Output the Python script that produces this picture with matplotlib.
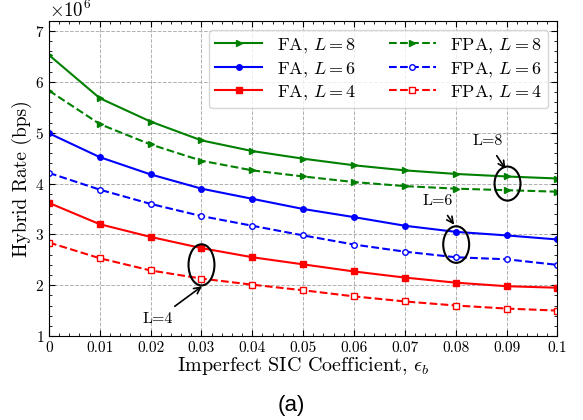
import matplotlib
matplotlib.use("Agg")
import matplotlib.pyplot as plt
import numpy as np
from matplotlib.patches import Ellipse
from matplotlib.ticker import FixedLocator, FixedFormatter, AutoMinorLocator

plt.rcParams['font.family'] = 'serif'
plt.rcParams['font.serif'] = ['cmr10']
plt.rcParams['mathtext.fontset'] = 'cm'
plt.rcParams['axes.formatter.use_mathtext'] = True
plt.rcParams['axes.unicode_minus'] = False

# imperfect SIC coefficient
eps_b = [0, 0.01, 0.02, 0.03, 0.04, 0.05, 0.06, 0.07, 0.08, 0.09, 0.1]
x_tick_labels = ['0', '0.01', '0.02', '0.03', '0.04', '0.05', '0.06', '0.07', '0.08', '0.09', '0.1']

# hybrid rate, in units of 1e6 bps
fa_l8 = [6.53, 5.68, 5.22, 4.85, 4.64, 4.49, 4.36, 4.26, 4.19, 4.14, 4.10]
fpa_l8 = [5.83, 5.17, 4.77, 4.45, 4.26, 4.14, 4.03, 3.95, 3.90, 3.87, 3.84]
fa_l6 = [4.99, 4.52, 4.18, 3.90, 3.70, 3.50, 3.34, 3.17, 3.05, 2.98, 2.90]
fpa_l6 = [4.21, 3.88, 3.60, 3.36, 3.17, 2.98, 2.80, 2.66, 2.55, 2.51, 2.40]
fa_l4 = [3.62, 3.20, 2.95, 2.73, 2.55, 2.41, 2.27, 2.15, 2.05, 1.98, 1.95]
fpa_l4 = [2.84, 2.53, 2.29, 2.13, 2.01, 1.90, 1.78, 1.68, 1.60, 1.54, 1.50]

scale = 1e6
x = np.array(eps_b)

fig = plt.figure(figsize=(5.83, 4.2), dpi=100)
ax = fig.add_axes([0.084, 0.2, 0.872, 0.75])

ms = 4
ax.plot(x, np.array(fa_l8) * scale, '-', color='g', marker='>', ms=ms, lw=1.5, label=r'FA, $L=8$')
ax.plot(x, np.array(fa_l6) * scale, '-', color='b', marker='o', ms=ms, lw=1.5, label=r'FA, $L=6$')
ax.plot(x, np.array(fa_l4) * scale, '-', color='r', marker='s', ms=ms, lw=1.5, label=r'FA, $L=4$')
ax.plot(x, np.array(fpa_l8) * scale, '--', color='g', marker='>', ms=ms, lw=1.5, label=r'FPA, $L=8$')
ax.plot(x, np.array(fpa_l6) * scale, '--', color='b', marker='o', ms=ms, mfc='white', lw=1.5, label=r'FPA, $L=6$')
ax.plot(x, np.array(fpa_l4) * scale, '--', color='r', marker='s', ms=ms, mfc='white', lw=1.5, label=r'FPA, $L=4$')

ax.set_xlim(0, 0.1)
ax.set_ylim(1e6, 7.2e6)
ax.xaxis.set_major_locator(FixedLocator(eps_b))
ax.xaxis.set_major_formatter(FixedFormatter(x_tick_labels))
ax.xaxis.set_minor_locator(AutoMinorLocator(5))
ax.yaxis.set_minor_locator(AutoMinorLocator(5))
ax.tick_params(which='both', direction='in', top=True, right=True, labelsize=11)
ax.tick_params(which='major', length=4, width=0.8)
ax.tick_params(which='minor', length=2, width=0.6)
ax.grid(True, which='major', linestyle='--', color='#b0b0b0', lw=0.7)
ax.yaxis.get_offset_text().set_fontsize(13.5)

ax.set_xlabel(r'Imperfect SIC Coefficient, $\epsilon_b$', fontsize=14.5, labelpad=0)
ax.set_ylabel('Hybrid Rate (bps)', fontsize=14, labelpad=2)

ax.legend(ncol=2, loc='upper right', fontsize=13, handlelength=2.6, columnspacing=1.8,
          labelspacing=0.25, borderpad=0.35, framealpha=0.8, edgecolor='#cccccc', fancybox=True)

# ellipses + arrows marking the L groups
for (cx, cy, h) in [(0.0902, 4.0, 0.67), (0.0801, 2.80, 0.72), (0.03, 2.40, 0.81)]:
    ax.add_patch(Ellipse((cx, cy * scale), 0.0051, h * scale, fill=False, ec='k', lw=1.5, zorder=5))

ax.annotate('L=8', xy=(0.0898, 4.29e6), xytext=(0.0862, 4.83e6), fontsize=11.5, ha='center', va='center',
            arrowprops=dict(arrowstyle='->', color='k', lw=1.2, shrinkA=4, shrinkB=0))
ax.annotate('L=6', xy=(0.0797, 3.19e6), xytext=(0.0764, 3.65e6), fontsize=11.5, ha='center', va='center',
            arrowprops=dict(arrowstyle='->', color='k', lw=1.2, shrinkA=4, shrinkB=0))
ax.annotate('L=4', xy=(0.0301, 1.98e6), xytext=(0.0213, 1.33e6), fontsize=11.5, ha='center', va='center',
            arrowprops=dict(arrowstyle='->', color='k', lw=1.2, shrinkA=4, shrinkB=0))

fig.text(0.5, 0.035, '(a)', fontsize=16, family='Liberation Sans', ha='center', va='center')

fig.savefig('out.png', dpi=100)
